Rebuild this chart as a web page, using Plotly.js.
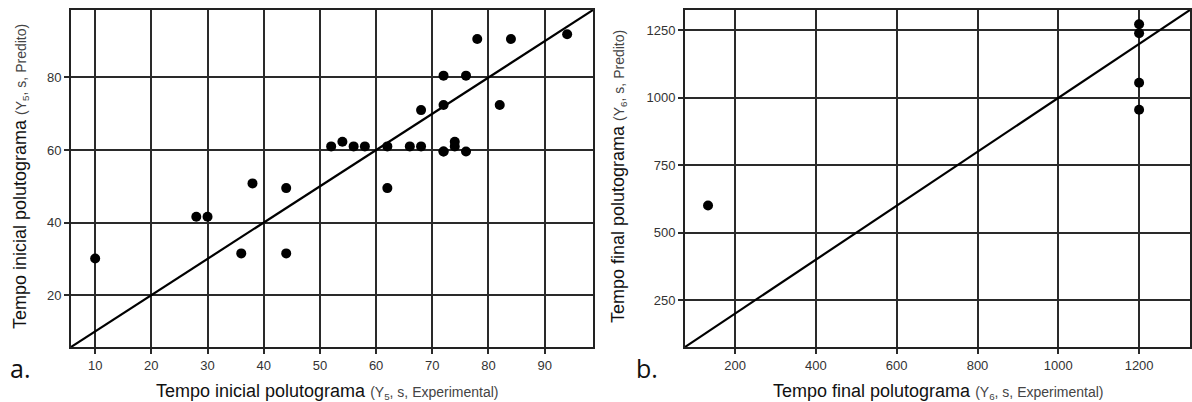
<!DOCTYPE html>
<html>
<head>
<meta charset="utf-8">
<script src="https://cdn.plot.ly/plotly-3.0.1.min.js"></script>
<style>html,body{margin:0;padding:0;background:#fff;}#chart{width:1192px;height:402px;}</style>
</head>
<body>
<div id="chart"></div>
<script>
// Panel a: initial pollutograph time (Y5)
const y5Experimental = [10, 28, 30, 36, 38, 44, 44, 52, 54, 56, 58, 62, 62, 66, 68, 68, 72, 72, 72, 72, 74, 74, 76, 76, 78, 82, 84, 94];
const y5Predicted    = [30.1, 41.6, 41.6, 31.5, 50.8, 49.5, 31.5, 61, 62.3, 61, 61, 61, 49.5, 61, 61, 71, 59.6, 72.4, 80.5, 59.6, 62.3, 61, 80.5, 59.6, 90.6, 72.4, 90.6, 91.9];
const rangeA = [5.7, 98.6];
const xTicksA = [10, 20, 30, 40, 50, 60, 70, 80, 90];
const yTicksA = [20, 40, 60, 80];

// Panel b: final pollutograph time (Y6)
const y6Experimental = [133, 1200, 1200, 1200, 1200];
const y6Predicted    = [601, 1273, 1240, 1056, 956];
const rangeB = [76, 1326];
const xTicksB = [200, 400, 600, 800, 1000, 1200];
const yTicksB = [250, 500, 750, 1000, 1250];

const W = 1192, H = 402;
const px = v => v / W, py = v => 1 - v / H;

const axisCommon = {
  showline: true, mirror: true, linecolor: '#222', linewidth: 2,
  showgrid: true, gridcolor: '#2a2a2a', gridwidth: 2,
  zeroline: false, ticks: 'outside', ticklen: 5, tickwidth: 2, tickcolor: '#2a2a2a',
  tickfont: {family: 'Liberation Sans, Arial, sans-serif', size: 13, color: '#333'},
  tickmode: 'array', fixedrange: true
};

const marker = {color: '#000', size: 10};
const data = [
  {x: rangeA, y: rangeA, mode: 'lines', line: {color: '#000', width: 2.2}, xaxis: 'x', yaxis: 'y', hoverinfo: 'skip'},
  {x: y5Experimental, y: y5Predicted, mode: 'markers', marker: marker, xaxis: 'x', yaxis: 'y'},
  {x: rangeB, y: rangeB, mode: 'lines', line: {color: '#000', width: 2.2}, xaxis: 'x2', yaxis: 'y2', hoverinfo: 'skip'},
  {x: y6Experimental, y: y6Predicted, mode: 'markers', marker: marker, xaxis: 'x2', yaxis: 'y2'}
];

const titleFont = {family: 'Liberation Sans, Arial, sans-serif', size: 18, color: '#111'};
const small = (s) => '<span style="font-size:14px;color:#444">' + s + '</span>';

const layout = {
  width: W, height: H,
  margin: {l: 0, r: 0, t: 0, b: 0},
  paper_bgcolor: '#fff', plot_bgcolor: '#fff',
  showlegend: false,
  xaxis: Object.assign({}, axisCommon, {domain: [px(71), px(593)], range: rangeA, tickvals: xTicksA, anchor: 'y'}),
  yaxis: Object.assign({}, axisCommon, {domain: [py(347), py(10)], range: rangeA, tickvals: yTicksA, anchor: 'x'}),
  xaxis2: Object.assign({}, axisCommon, {domain: [px(685), px(1190)], range: rangeB, tickvals: xTicksB, anchor: 'y2'}),
  yaxis2: Object.assign({}, axisCommon, {domain: [py(347), py(10)], range: rangeB, tickvals: yTicksB, anchor: 'x2'}),
  annotations: [
    {xref: 'paper', yref: 'paper', x: px(327), y: py(391), xanchor: 'center', yanchor: 'middle', showarrow: false,
     text: 'Tempo inicial polutograma ' + small('(Y<sub>5</sub>, s, Experimental)'), font: titleFont},
    {xref: 'paper', yref: 'paper', x: px(20), y: py(177), xanchor: 'center', yanchor: 'middle', showarrow: false, textangle: -90,
     text: 'Tempo inicial polutograma ' + small('(Y<sub>5</sub>, s, Predito)'), font: titleFont},
    {xref: 'paper', yref: 'paper', x: px(938), y: py(391), xanchor: 'center', yanchor: 'middle', showarrow: false,
     text: 'Tempo final polutograma ' + small('(Y<sub>6</sub>, s, Experimental)'), font: titleFont},
    {xref: 'paper', yref: 'paper', x: px(618), y: py(176), xanchor: 'center', yanchor: 'middle', showarrow: false, textangle: -90,
     text: 'Tempo final polutograma ' + small('(Y<sub>6</sub>, s, Predito)'), font: titleFont},
    {xref: 'paper', yref: 'paper', x: px(8), y: py(368), xanchor: 'left', yanchor: 'middle', showarrow: false,
     text: 'a.', font: {family: 'Open Sans, sans-serif', size: 25, color: '#111'}},
    {xref: 'paper', yref: 'paper', x: px(634), y: py(368), xanchor: 'left', yanchor: 'middle', showarrow: false,
     text: 'b.', font: {family: 'Open Sans, sans-serif', size: 25, color: '#111'}}
  ]
};

Plotly.newPlot('chart', data, layout, {staticPlot: true, displayModeBar: false});
</script>
</body>
</html>
